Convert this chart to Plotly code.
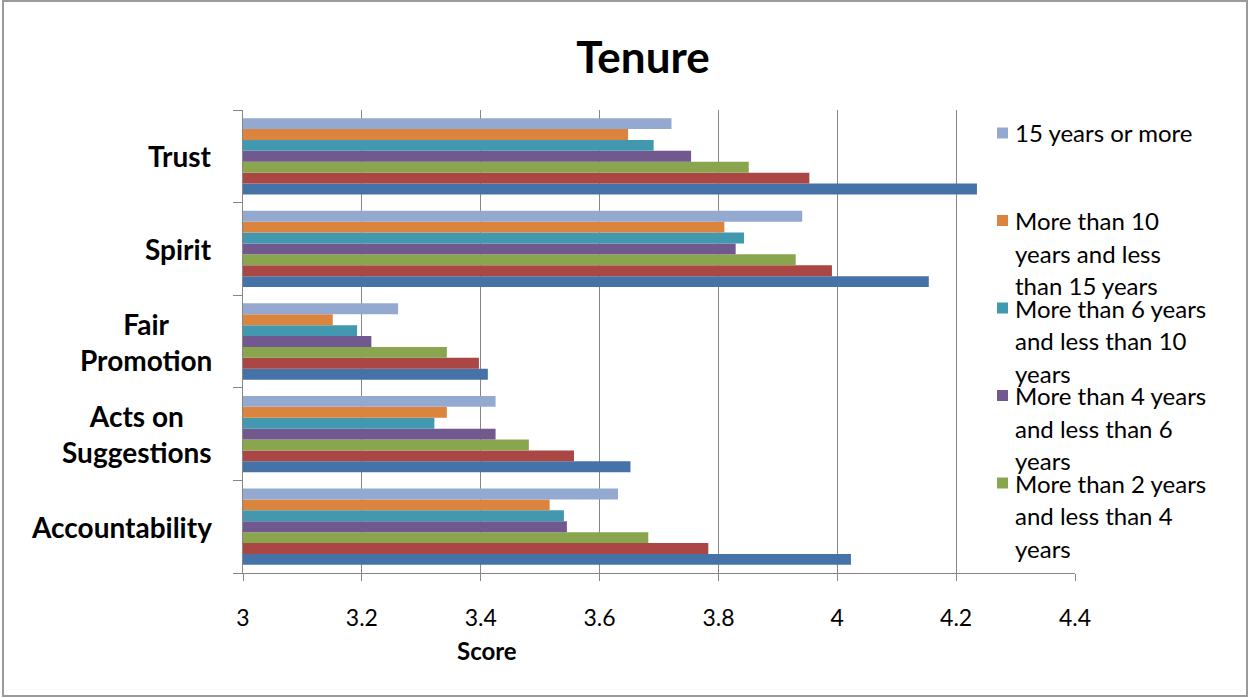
import plotly.graph_objects as go

# Categories listed bottom-to-top on the value axis
categories = ["Accountability", "Acts on Suggestions", "Fair Promotion", "Spirit", "Trust"]
# Wrapped versions of the category labels
category_labels = ["Accountability", "Acts on<br>Suggestions", "Fair<br>Promotion", "Spirit", "Trust"]

# Tenure groups, drawn from the bottom bar of each cluster upward
series_names = [
    "Less than 1 year",
    "More than 1 year and less than 2 years",
    "More than 2 years and less than 4 years",
    "More than 4 years and less than 6 years",
    "More than 6 years and less than 10 years",
    "More than 10 years and less than 15 years",
    "15 years or more",
]
series_colors = ["#4572A7", "#AA4643", "#89A54E", "#71588F", "#4198AF", "#DB843D", "#93A9D0"]

# Scores per tenure group, in the order of `categories`
less_1 = [4.023, 3.652, 3.412, 4.154, 4.235]
one_to_2 = [3.783, 3.557, 3.397, 3.991, 3.953]
two_to_4 = [3.682, 3.481, 3.343, 3.930, 3.851]
four_to_6 = [3.545, 3.425, 3.216, 3.829, 3.754]
six_to_10 = [3.540, 3.322, 3.192, 3.843, 3.691]
ten_to_15 = [3.516, 3.343, 3.151, 3.810, 3.648]
fifteen_plus = [3.631, 3.425, 3.261, 3.941, 3.721]
series_values = [less_1, one_to_2, two_to_4, four_to_6, six_to_10, ten_to_15, fifteen_plus]

# Legend entries (wrapped) shown beside the chart, top to bottom
legend_entries = [
    (6, ["15 years or more"]),
    (5, ["More than 10", "years and less", "than 15 years"]),
    (4, ["More than 6 years", "and less than 10", "years"]),
    (3, ["More than 4 years", "and less than 6", "years"]),
    (2, ["More than 2 years", "and less than 4", "years"]),
]

x_ticks = [3, 3.2, 3.4, 3.6, 3.8, 4, 4.2, 4.4]
x_tick_text = ["3", "3.2", "3.4", "3.6", "3.8", "4", "4.2", "4.4"]

W, H = 1250, 698
PL, PR, PT, PB = 243, 1075, 110, 573
FONT = "Lato, 'Open Sans', sans-serif"


def fx(px):
    return (px - PL) / (PR - PL)


def fy(py):
    return (PB - py) / (PB - PT)


fig = go.Figure()
for name, color, vals in zip(series_names, series_colors, series_values):
    fig.add_trace(go.Bar(
        y=categories, x=vals, name=name, orientation="h",
        marker=dict(color=color, line=dict(width=0)),
        showlegend=False,
    ))

annotations = []
shapes = []

# Category labels: right-aligned block, lines centred within it
for cat, label in zip(categories, category_labels):
    annotations.append(dict(
        x=fx(214), xref="paper", xanchor="right",
        y=cat, yref="y", yanchor="middle", align="center",
        text="<b>%s</b>" % label, showarrow=False,
        font=dict(family=FONT, size=28, color="#000000"),
    ))

# Legend built beside the plot
for k, (idx, lines) in enumerate(legend_entries):
    top = 133 + k * 87.5
    shapes.append(dict(
        type="rect", xref="paper", yref="paper",
        x0=fx(997), x1=fx(1008), y0=fy(top - 5.5), y1=fy(top + 5.5),
        fillcolor=series_colors[idx], line=dict(width=0),
    ))
    for i, line in enumerate(lines):
        annotations.append(dict(
            x=fx(1013), xref="paper", xanchor="left",
            y=fy(top + i * 32.7), yref="paper", yanchor="middle",
            text=line, showarrow=False,
            font=dict(family=FONT, size=24, color="#000000"),
        ))

# Axis title
annotations.append(dict(
    x=fx(487), xref="paper", xanchor="center",
    y=fy(650), yref="paper", yanchor="middle",
    text="<b>Score</b>", showarrow=False,
    font=dict(family=FONT, size=24, color="#000000"),
))

# Outer chart border
shapes.append(dict(
    type="rect", xref="paper", yref="paper", layer="above",
    x0=fx(3), x1=fx(1247), y0=fy(696), y1=fy(1),
    line=dict(color="#9a9a9a", width=2), fillcolor="rgba(0,0,0,0)",
))

fig.update_layout(
    width=W, height=H,
    margin=dict(l=PL, r=W - PR, t=PT, b=H - PB, pad=0),
    paper_bgcolor="white", plot_bgcolor="white",
    barmode="group", bargap=0.176, bargroupgap=0,
    title=dict(
        text="<b>Tenure</b>", x=643 / W, xanchor="center",
        y=1 - 58 / H, yanchor="middle", yref="container",
        font=dict(family=FONT, size=44, color="#000000"),
    ),
    xaxis=dict(
        range=[3, 4.4], tickvals=x_ticks, ticktext=x_tick_text,
        showgrid=True, gridcolor="#868686", gridwidth=1,
        showline=True, linecolor="#868686", linewidth=1,
        ticks="outside", ticklen=7, tickcolor="#868686",
        ticklabelstandoff=17,
        tickfont=dict(family=FONT, size=23, color="#000000"),
        zeroline=False, fixedrange=True,
    ),
    yaxis=dict(
        categoryorder="array", categoryarray=categories,
        range=[-0.5, 4.5], showticklabels=False,
        showgrid=False, showline=True, linecolor="#868686", linewidth=1,
        ticks="", zeroline=False, fixedrange=True,
    ),
    # numeric twin axis carrying the tick marks between category bands
    yaxis2=dict(
        overlaying="y", side="left", range=[-0.5, 4.5],
        tickvals=[-0.5, 0.5, 1.5, 2.5, 3.5, 4.5], showticklabels=False,
        ticks="outside", ticklen=9, tickcolor="#868686",
        showgrid=False, showline=False, zeroline=False, fixedrange=True,
    ),
    annotations=annotations,
    shapes=shapes,
)
# invisible trace that activates the twin axis
fig.add_trace(go.Scatter(x=[3], y=[0], yaxis="y2", mode="markers",
                         marker=dict(opacity=0), showlegend=False, hoverinfo="skip"))

fig.write_html("out.html")
